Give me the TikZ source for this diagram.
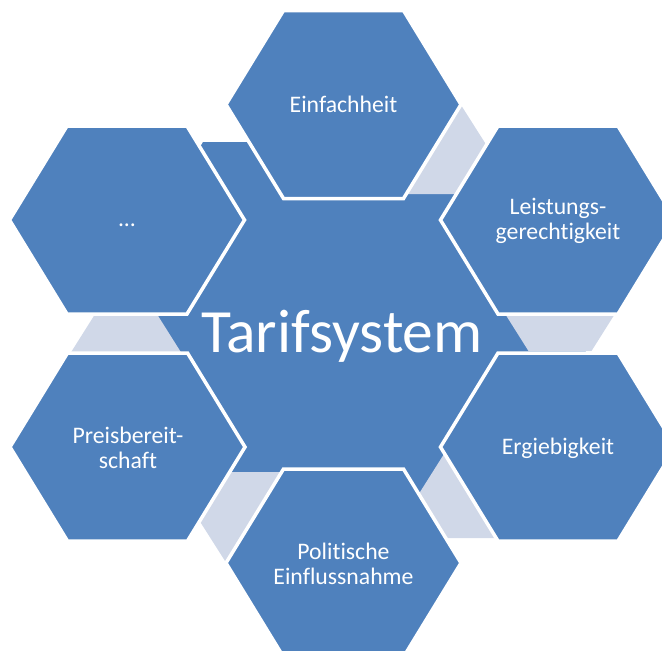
\documentclass[tikz,border=0pt]{standalone}
\usepackage{fontspec}
\setmainfont{Carlito}[Ligatures={NoCommon}]
\definecolor{hexblue}{RGB}{79,129,189}
\definecolor{linkgrey}{RGB}{208,216,232}
\tikzset{
  hexa/.style = {fill=hexblue, draw=white, line width=2pt, line join=miter},
  link/.style = {fill=linkgrey},
  lbl/.style = {text=white, align=center, font=\fontsize{13.5}{14.4}\selectfont},
  hub/.style = {text=white, font=\fontsize{35}{38}\selectfont}
}
% hexagon: style, centre x, centre y, half width, half edge, half height
\newcommand{\hexshape}[6]{%
  \path[#1] ({#2-#4},#3) -- ({#2-#5},{#3-#6}) -- ({#2+#5},{#3-#6})
    -- ({#2+#4},#3) -- ({#2+#5},{#3+#6}) -- ({#2-#5},{#3+#6}) -- cycle;
}

\begin{document}
\begin{tikzpicture}[x=0.02cm, y=-0.02cm]
  \useasboundingbox (0,0) rectangle (662,650);
  \clip (0,0) rectangle (662,650);
  % centre
  \hexshape{hexa}{343}{333}{256}{141}{193}
  % links
  \hexshape{link}{426.5}{146}{60.5}{30}{48}
  \hexshape{link}{560}{301}{63}{31.5}{50}
  \hexshape{link}{470.5}{496}{53}{26.5}{42}
  \hexshape{link}{259.5}{520}{60.5}{30}{48}
  \hexshape{link}{126}{365}{63}{31.5}{50}
  % outer ring
  \hexshape{hexa}{343.5}{104.5}{117.5}{60}{94}
  \hexshape{hexa}{558}{220}{117.5}{60}{94}
  \hexshape{hexa}{558}{447}{117.5}{60}{94}
  \hexshape{hexa}{343.5}{563}{117.5}{60}{94}
  \hexshape{hexa}{127.5}{447}{117.5}{60}{94}
  \hexshape{hexa}{127}{220}{117.5}{60}{94}
  % labels
  \node[hub] (tarif) at (342,336) {Tarifsystem};
  \node[lbl] (einf) at (343.5,104) {Einfachheit};
  \node[lbl] (leist) at (558,221) {Leistungs-\\gerechtigkeit};
  \node[lbl] (ergie) at (558,448) {Ergiebigkeit};
  \node[lbl] (polit) at (343.5,564) {Politische\\Einflussnahme};
  \node[lbl] (preis) at (128,448) {Preisbereit-\\schaft};
  \node[lbl] (etc) at (127,225) {...};
\end{tikzpicture}
\end{document}
